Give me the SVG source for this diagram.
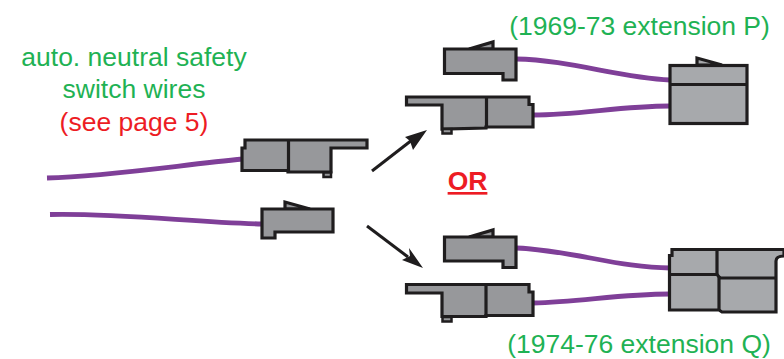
<svg xmlns="http://www.w3.org/2000/svg" width="784" height="359" viewBox="0 0 784 359">
<style>
.c{fill:#97989b;stroke:#1f1d1e;stroke-width:3.200;stroke-linejoin:miter}
.d{fill:none;stroke:#1f1d1e;stroke-width:3.200}
.b{fill:#a7a9ac;stroke:#1f1d1e;stroke-width:3.200;stroke-linejoin:miter}
.w{fill:none;stroke:#7f3f98;stroke-width:4.800}
.a{fill:none;stroke:#1f1d1e;stroke-width:3}
.h{fill:#1f1d1e}
.n{fill:#97989b;stroke:#1f1d1e;stroke-width:2.500}
text{font-family:"Liberation Sans",Arial,sans-serif;font-size:26.500px;text-anchor:middle}
.g{fill:#1fb254}
.r{fill:#ed1c24}
</style>
<rect width="784" height="359" fill="#fff"/>
<g id="connectors">
<path class="w" d="M47 178C110 176 180 165 243 159"/>
<path class="w" d="M50 214.500C120 213 190 222 262 224"/>
<path class="w" d="M516 59C570 60 620 78 670 80"/>
<path class="w" d="M533 115C580 115 620 106 670 106"/>
<path class="w" d="M516 248C570 250 620 268 670 268"/>
<path class="w" d="M533 303C580 302 620 294 670 294"/>
<path class="a" d="M372 171L412 140"/>
<polygon class="h" points="427,130 413,150 410,141 405,137"/>
<path class="a" d="M367 226L408 257"/>
<polygon class="h" points="423,268 402,260 410,256 409,248"/>
</g>
<g id="node-left-a">
<path class="c" d="M245 140H367V148H331V172H288V170.500H242V148H245Z"/>
<path class="d" d="M288.500 140V172"/>
<path class="n" d="M323.500 172.500H331V177H323.500Z"/>
</g>
<g id="node-left-b">
<path class="c" d="M285 209V202L310 209Z"/>
<path class="c" d="M262 209H333V232H275V238H262Z"/>
</g>
<g id="node-p-plug-a">
<path class="c" d="M469 49L493 42V49Z"/>
<path class="c" d="M444.500 49H516V80H503V73.500H444.500Z"/>
</g>
<g id="node-p-plug-b">
<path class="c" d="M406.500 97H529V104.500H533V127H486V128L442 129V105H406.500Z"/>
<path class="d" d="M486.500 97V127"/>
<path class="n" d="M442.500 129H451.500V133.500H442.500Z"/>
</g>
<g id="node-p-housing">
<path class="b" d="M697 58V65H722Z"/>
<rect class="b" x="670" y="65.500" width="77" height="58"/>
<path class="d" d="M670 84.500H747"/>
</g>
<g id="node-q-plug-a">
<path class="c" d="M469 237L493 230V237Z"/>
<path class="c" d="M444.500 237H516V267.500H503V261H444.500Z"/>
</g>
<g id="node-q-plug-b">
<path class="c" d="M406.500 284.500H529V292H533V315.500H486V316.500H442V293H406.500Z"/>
<path class="d" d="M486 284.500V316"/>
<path class="n" d="M442.500 317H451.500V321.500H442.500Z"/>
</g>
<g id="node-q-housing">
<path class="b" d="M672 249.500H784V256C778 256 776 258 776 261V312H722L719 310H669.500V255.500H672Z"/>
<path class="d" d="M717 249.500V274.500H669.500"/>
<path class="d" d="M717 274.500L720 278H776"/>
<path class="d" d="M719 276V311"/>
</g>
<g id="labels">
<text class="g" x="134" y="66">auto. neutral safety</text>
<text class="g" x="134" y="98">switch wires</text>
<text class="r" x="134" y="131">(see page 5)</text>
<text class="g" x="639.500" y="34.500">(1969-73 extension P)</text>
<text class="g" x="639" y="353">(1974-76 extension Q)</text>
<text class="r" x="467.500" y="190" style="font-weight:bold;text-decoration:underline">OR</text>
</g>
</svg>
